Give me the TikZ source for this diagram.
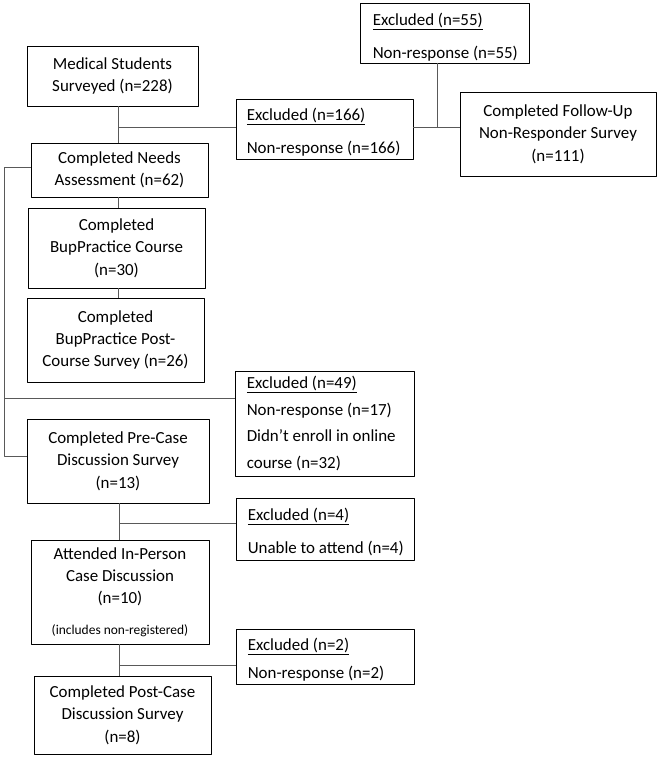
\documentclass[tikz,border=0pt]{standalone}
\usepackage{fontspec}
\setmainfont{Carlito}
\begin{document}
\begin{tikzpicture}[line join=bevel,
  box/.style={draw=black,line width=0.8bp,align=center,inner sep=0bp,
    font=\fontsize{17}{22.5}\selectfont},
  frame/.style={draw=black,line width=0.8bp,inner sep=0bp},
  extext/.style={anchor=west,align=left,inner sep=0bp,
    font=\fontsize{17}{22.5}\selectfont},
  link/.style={draw=black!65,line width=0.8bp},]
\useasboundingbox (0bp,0bp) rectangle (659bp,758bp);
%%
\node (node_surveyed) at (112.5bp,682bp) [box,minimum width=171bp,minimum height=60bp] {Medical Students\\Surveyed (n=228)};
  \node (node_ex166) at (324.5bp,629bp) [frame,minimum width=177bp,minimum height=60bp] {};
  \node (text_ex166) at ([xshift=11bp,yshift=-3bp]node_ex166.west) [extext] {\underline{Excluded (n=166)}\\[11bp]Non-response (n=166)};
  \node (node_ex55) at (444.5bp,725bp) [frame,minimum width=169bp,minimum height=60bp] {};
  \node (text_ex55) at ([xshift=13bp,yshift=-4bp]node_ex55.west) [extext] {\underline{Excluded (n=55)}\\[11bp]Non-response (n=55)};
  \node (node_followup) at (558bp,624bp) [box,minimum width=196bp,minimum height=84bp] {Completed Follow-Up\\Non-Responder Survey\\(n=111)};
  \node (node_needs) at (119.5bp,588bp) [box,minimum width=177bp,minimum height=54bp] {Completed Needs\\Assessment (n=62)};
  \node (node_course) at (116.5bp,510bp) [box,minimum width=177bp,minimum height=80bp] {Completed\\BupPractice Course\\(n=30)};
  \node (node_postcourse) at (115.5bp,418bp) [box,minimum width=177bp,minimum height=84bp] {Completed\\BupPractice Post-\\Course Survey (n=26)};
  \node (node_ex49) at (324.5bp,334.5bp) [frame,minimum width=179bp,minimum height=105bp] {};
  \node (text_ex49) at ([xshift=12bp]node_ex49.west) [extext] {\underline{Excluded (n=49)}\\[4.5bp]Non-response (n=17)\\[4.5bp]Didn’t enroll in online\\[4.5bp]course (n=32)};
  \node (node_precase) at (118bp,297bp) [box,minimum width=182bp,minimum height=84bp] {Completed Pre-Case\\Discussion Survey\\(n=13)};
  \node (node_ex4) at (325bp,229bp) [frame,minimum width=178bp,minimum height=62bp] {};
  \node (text_ex4) at ([xshift=12bp,yshift=-3bp]node_ex4.west) [extext] {\underline{Excluded (n=4)}\\[11bp]Unable to attend (n=4)};
  \node (node_attended) at (120bp,166bp) [box,minimum width=178bp,minimum height=104bp] {Attended In-Person\\Case Discussion\\(n=10)\\[8bp]{\fontsize{13.5}{15}\selectfont (includes non-registered)}};
  \node (node_ex2) at (325bp,101.5bp) [frame,minimum width=178bp,minimum height=55bp] {};
  \node (text_ex2) at ([xshift=12bp,yshift=-3.5bp]node_ex2.west) [extext] {\underline{Excluded (n=2)}\\[5.5bp]Non-response (n=2)};
  \node (node_postcase) at (122.5bp,43bp) [box,minimum width=177bp,minimum height=78bp] {Completed Post-Case\\Discussion Survey\\(n=8)};
%
\coordinate (split_1) at (118bp,631bp);
  \coordinate (split_55) at (437bp,631bp);
  \coordinate (rail_top) at (4bp,591bp);
  \coordinate (rail_mid) at (4bp,360bp);
  \coordinate (rail_bot) at (4bp,302bp);
  \coordinate (split_2) at (119bp,235bp);
  \coordinate (split_3) at (119bp,93bp);
%
\draw [link] (node_surveyed.south -| split_1) -- (node_needs.north -| split_1);
  \draw [link] (split_1) -- (node_ex166.west |- split_1);
  \draw [link] (node_ex166.east |- split_55) -- (node_followup.west |- split_55);
  \draw [link] (node_ex55.south -| split_55) -- (split_55);
  \draw [link] (node_needs.south -| split_1) -- (node_course.north -| split_1);
  \draw [link] (node_course.south -| split_1) -- (node_postcourse.north -| split_1);
  \draw [link] (node_needs.west |- rail_top) -- (rail_top) -- (rail_bot) -- (node_precase.west |- rail_bot);
  \draw [link] (rail_mid) -- (node_ex49.west |- rail_mid);
  \draw [link] (node_precase.south -| split_2) -- (node_attended.north -| split_2);
  \draw [link] (split_2) -- (node_ex4.west |- split_2);
  \draw [link] (node_attended.south -| split_3) -- (node_postcase.north -| split_3);
  \draw [link] (split_3) -- (node_ex2.west |- split_3);
%
\end{tikzpicture}
\end{document}
